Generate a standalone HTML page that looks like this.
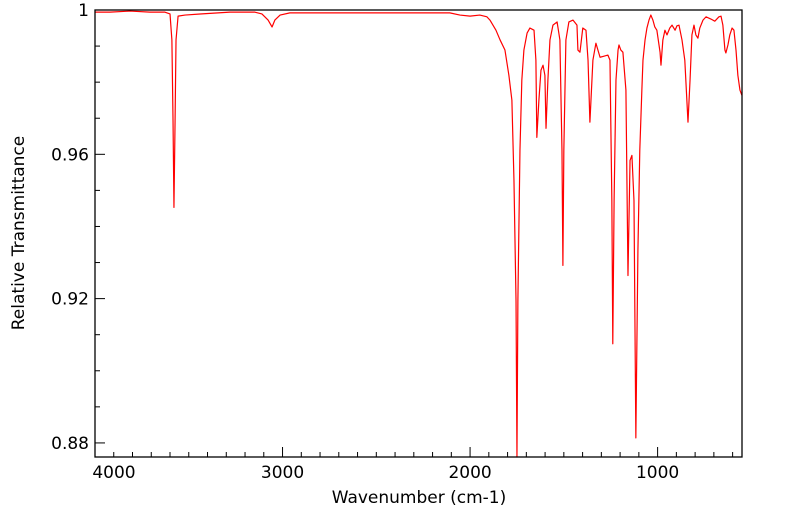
<!DOCTYPE html>
<html><head><meta charset="utf-8"><style>
html,body{margin:0;padding:0;background:#fff}
svg{display:block;font-family:"DejaVu Sans","Liberation Sans",sans-serif}
</style></head><body>
<svg id="chart" width="799" height="516" viewBox="0 0 799 516" xmlns="http://www.w3.org/2000/svg">
<g id="axes"></g>
<path id="spectrum" fill="none" stroke="#ff0000" stroke-width="1.2" stroke-linejoin="round"></path>
<rect x="95" y="10" width="647" height="447" fill="none" stroke="#000" stroke-width="1.3"></rect>
<text x="419" y="503" font-size="17" text-anchor="middle">Wavenumber (cm-1)</text>
<text transform="translate(24,233) rotate(-90)" font-size="17" text-anchor="middle">Relative Transmittance</text>
</svg>
<script>
const wavenumbers=[4000,3920,3814,3707,3627,3600,3590,3584,3579,3573,3568,3557,3520,3440,3280,3147,3110,3077,3056,3041,3013,2961,2641,2374,2108,2054,2000,1948,1910,1894,1862,1840,1814,1793,1777,1766,1755,1750,1745,1734,1724,1713,1696,1681,1659,1649,1644,1633,1622,1611,1601,1595,1585,1574,1558,1536,1521,1510,1505,1500,1489,1473,1451,1430,1425,1414,1399,1382,1371,1361,1345,1329,1307,1286,1265,1254,1244,1239,1232,1222,1211,1206,1196,1185,1169,1158,1147,1137,1126,1116,1105,1095,1084,1078,1067,1057,1046,1036,1025,1015,1004,987,982,972,961,950,935,923,907,897,886,870,855,838,827,817,806,796,785,775,758,742,716,695,673,662,652,641,636,625,615,603,593,582,572,561,551];
const transmittance=[0.9994,0.9994,0.9997,0.9994,0.9994,0.9989,0.9917,0.9694,0.9453,0.9694,0.9917,0.9983,0.9986,0.9989,0.9994,0.9994,0.9989,0.9972,0.9953,0.9972,0.9986,0.9992,0.9992,0.9992,0.9992,0.9986,0.9983,0.9986,0.9981,0.9972,0.9944,0.9917,0.9889,0.9819,0.9750,0.9528,0.9194,0.8740,0.9194,0.9611,0.9806,0.9889,0.9936,0.9950,0.9944,0.9861,0.9647,0.9750,0.9833,0.9847,0.9819,0.9672,0.9806,0.9917,0.9958,0.9967,0.9917,0.9611,0.9292,0.9611,0.9917,0.9967,0.9972,0.9958,0.9889,0.9883,0.9950,0.9944,0.9861,0.9689,0.9861,0.9908,0.9869,0.9872,0.9875,0.9861,0.9472,0.9075,0.9472,0.9806,0.9889,0.9903,0.9889,0.9883,0.9778,0.9264,0.9583,0.9597,0.9472,0.8814,0.9333,0.9611,0.9778,0.9861,0.9917,0.9950,0.9972,0.9986,0.9972,0.9953,0.9944,0.9883,0.9847,0.9917,0.9944,0.9931,0.9950,0.9958,0.9944,0.9956,0.9958,0.9917,0.9861,0.9689,0.9806,0.9931,0.9958,0.9931,0.9922,0.9950,0.9972,0.9981,0.9975,0.9969,0.9981,0.9983,0.9958,0.9889,0.9881,0.9903,0.9931,0.9950,0.9944,0.9889,0.9819,0.9778,0.9764];
const xTicks=[4000,3000,2000,1000];
const yTicks=[1,0.96,0.92,0.88];
const yTickLabels=["1","0.96","0.92","0.88"];

const X0=95,X1=742,Y0=10,Y1=457;
const WMAX=4000,WMIN=550,TMAX=1.0,TMIN=0.8761;
function xs(w){return X0+(WMAX-w)/(WMAX-WMIN)*(X1-X0);}
function ys(t){return Y0+(TMAX-t)/(TMAX-TMIN)*(Y1-Y0);}

const NS="http://www.w3.org/2000/svg";
const axes=document.getElementById('axes');
function line(x1,y1,x2,y2,name){
  const l=document.createElementNS(NS,'line');
  l.setAttribute('x1',x1);l.setAttribute('y1',y1);l.setAttribute('x2',x2);l.setAttribute('y2',y2);
  l.setAttribute('stroke','#000');l.setAttribute('stroke-width','1');
  
  
  axes.appendChild(l);
}
function text(x,y,s,anchor,name){
  const t=document.createElementNS(NS,'text');
  t.setAttribute('x',x);t.setAttribute('y',y);t.setAttribute('font-size','17');t.setAttribute('text-anchor',anchor);
  t.textContent=s;
  
  
  axes.appendChild(t);
}
for(let w=4000;w>=WMIN;w-=100){
  const x=xs(w);const major=(w%1000===0);
  line(x,Y1,x,Y1-(major?10:5),major?'x-major-tick':'x-minor-tick');
}
xTicks.forEach(w=>text(Math.max(xs(w),114),478,String(w),'middle','x-tick-label'));
for(let k=0;k<=12;k++){
  const t=1-k*0.01;if(t<TMIN)break;
  const y=ys(t);const major=(k%4===0);
  line(X0,y,X0+(major?10:5),y,major?'y-major-tick':'y-minor-tick');
}
yTicks.forEach((t,i)=>text(89,ys(t)+6,yTickLabels[i],'end','y-tick-label'));

let d='';
for(let i=0;i<wavenumbers.length;i++){
  let y=Math.min(ys(transmittance[i]),Y1);
  d+=(i?'L':'M')+xs(wavenumbers[i]).toFixed(2)+','+y.toFixed(2);
}
document.getElementById('spectrum').setAttribute('d',d);
</script>
</body></html>
